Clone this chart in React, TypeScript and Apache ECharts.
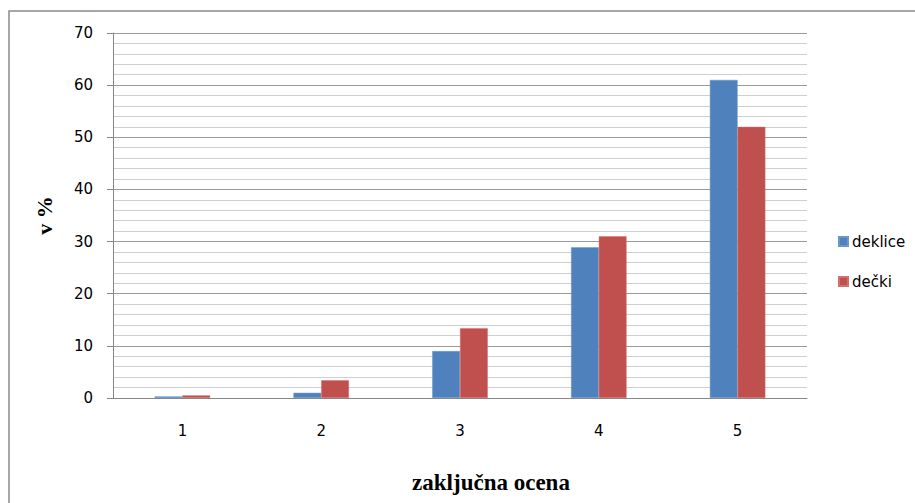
import React, { useEffect, useRef } from "react";
import * as echarts from "echarts";

// Final grade distribution (percent) for girls and boys
const grades = ["1", "2", "3", "4", "5"];
const deklice = [0.3, 1, 9, 28.9, 61];
const decki = [0.5, 3.4, 13.4, 31, 52];
const seriesNames = ["deklice", "dečki"];
const yTitle = "v %";
const xTitle = "zaključna ocena";

const BLUE = "#4F81BD";
const RED = "#C0504D";
const LABEL_FONT = "'DejaVu Sans', sans-serif";
const TITLE_FONT = "'Liberation Serif', 'Times New Roman', serif";

export default function App() {
  const ref = useRef<HTMLDivElement>(null);

  useEffect(() => {
    if (!ref.current) return;
    const chart = echarts.init(ref.current, undefined, { renderer: "svg" });
    chart.setOption({
      animation: false,
      backgroundColor: "#ffffff",
      grid: { left: 113, right: 108, top: 33, bottom: 105, containLabel: false },
      legend: {
        orient: "vertical",
        left: 833,
        top: 229,
        itemWidth: 9,
        itemHeight: 9,
        itemGap: 25,
        icon: "rect",
        textStyle: { fontFamily: LABEL_FONT, fontSize: 15, color: "#000", padding: [0, 0, 0, -1] },
        data: seriesNames,
      },
      xAxis: {
        type: "category",
        data: grades,
        axisLine: { lineStyle: { color: "#868686", width: 1 } },
        axisTick: { show: false },
        axisLabel: { fontFamily: LABEL_FONT, fontSize: 15, color: "#000", margin: 25 },
      },
      yAxis: {
        type: "value",
        min: 0,
        max: 70,
        interval: 10,
        name: yTitle,
        nameLocation: "middle",
        nameRotate: 90,
        nameGap: 58,
        nameTextStyle: { fontFamily: TITLE_FONT, fontSize: 22, fontWeight: "bold", color: "#000" },
        axisLine: { show: true, lineStyle: { color: "#868686", width: 1 } },
        axisTick: { show: true, length: 6, lineStyle: { color: "#868686" } },
        axisLabel: { fontFamily: LABEL_FONT, fontSize: 15, color: "#000", margin: 20 },
        splitLine: { show: true, lineStyle: { color: "#9a9a9a", width: 1 } },
        minorTick: { show: false, splitNumber: 5 },
        minorSplitLine: { show: true, lineStyle: { color: "#cfcfcf", width: 1 } },
      },
      series: [
        {
          name: seriesNames[0],
          type: "bar",
          data: deklice,
          itemStyle: { color: BLUE, borderColor: "#6a96cc", borderWidth: 0.5 },
          barGap: "0%",
          barCategoryGap: "60%",
        },
        {
          name: seriesNames[1],
          type: "bar",
          data: decki,
          itemStyle: { color: RED, borderColor: "#d0716e", borderWidth: 0.5 },
          barGap: "0%",
          barCategoryGap: "60%",
        },
      ],
      graphic: [
        {
          type: "rect",
          shape: { x: 9, y: 11, width: 930, height: 520 },
          style: { fill: "none", stroke: "#8a8a8a", lineWidth: 1.5 },
          silent: true,
        },
        {
          type: "text",
          x: 491,
          y: 482,
          style: {
            text: xTitle,
            fontFamily: TITLE_FONT,
            fontSize: 23,
            fontWeight: "bold",
            fill: "#000",
            align: "center",
            verticalAlign: "middle",
          },
        },
      ],
    });
    return () => chart.dispose();
  }, []);

  return (
    <div
      ref={ref}
      style={{ position: "fixed", left: 0, top: 0, width: 915, height: 503 }}
    />
  );
}
